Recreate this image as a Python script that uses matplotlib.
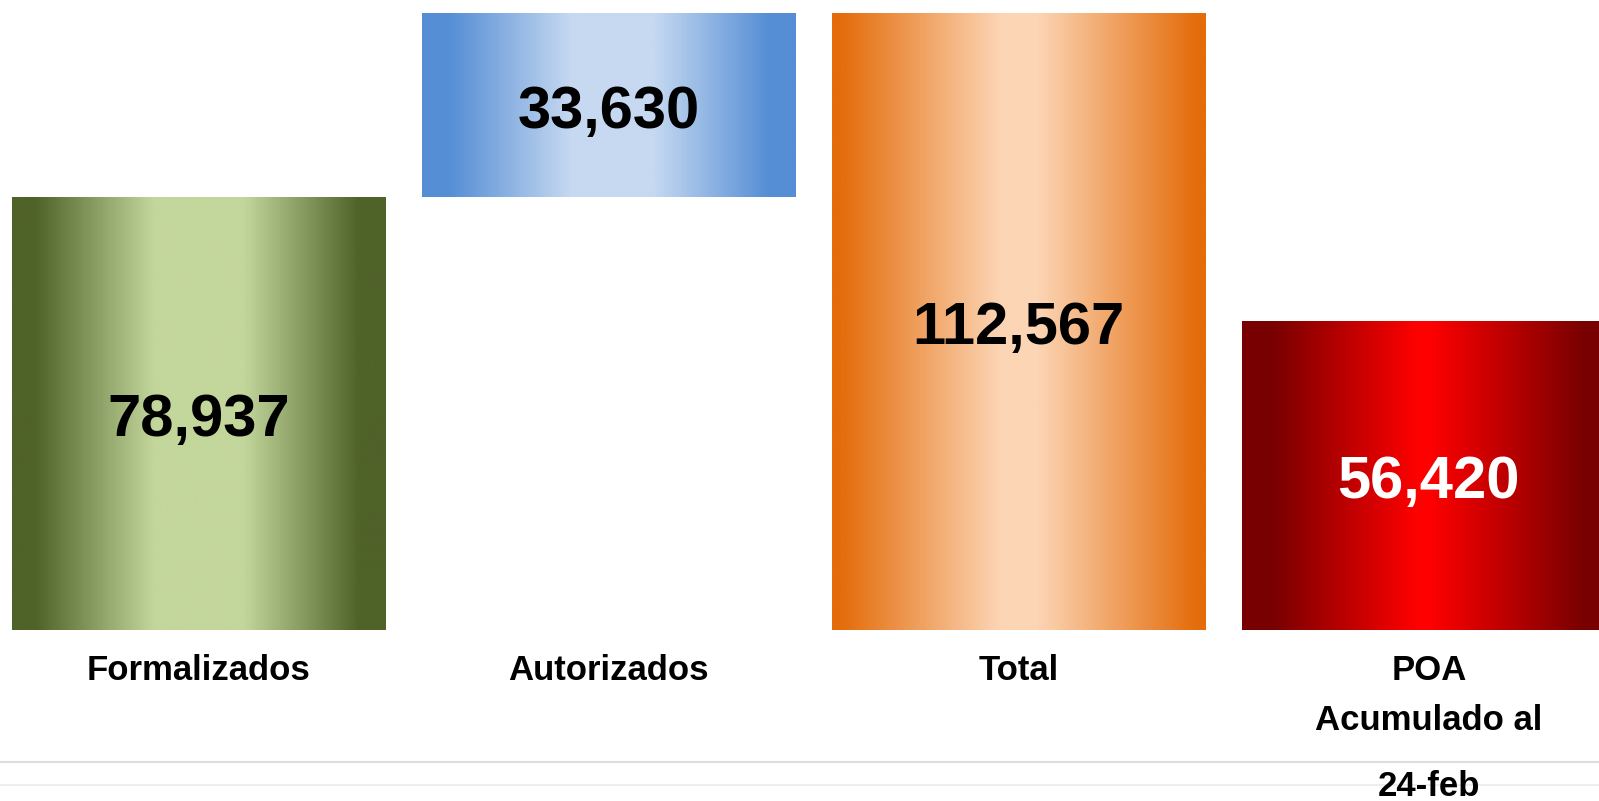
import numpy as np
import matplotlib.pyplot as plt
from matplotlib.colors import LinearSegmentedColormap
from matplotlib.patches import Rectangle

# data
categories = ['Formalizados', 'Autorizados', 'Total', 'POA']
values = [78937, 33630, 112567, 56420]
bottoms = [0, 78937, 0, 0]          # Autorizados floats on top of Formalizados
value_labels = ['78,937', '33,630', '112,567', '56,420']
label_colors = ['black', 'black', 'black', 'white']
poa_extra = ['Acumulado al', '24-feb']

# gradient colours: (edge, centre) and where the ramps sit
edge_colors = ['#4f6228', '#558ed5', '#e46c0a', '#780000']
mid_colors = ['#c3d69b', '#c6d9f1', '#fcd5b5', '#ff0000']
ramps = [(0.06, 0.38, 0.62, 0.93),
         (0.07, 0.40, 0.62, 0.93),
         (0.02, 0.45, 0.55, 0.98),
         (0.08, 0.47, 0.50, 0.92)]

fig = plt.figure(figsize=(15.99, 8.01), dpi=100)
ax = fig.add_axes([0, 0.2135, 1, 0.7703])
ax.set_xlim(-0.485, 3.415)
ax.set_ylim(0, 112567)
ax.axis('off')

width = 0.91
x = np.arange(len(categories))
bars = ax.bar(x, values, width=width, bottom=bottoms, color='none', edgecolor='none')

grad = np.linspace(0, 1, 400).reshape(1, -1)
for i, b in enumerate(bars):
    a, c, d, e = ramps[i]
    cmap = LinearSegmentedColormap.from_list(
        'g%d' % i,
        [(0, edge_colors[i]), (a, edge_colors[i]), (c, mid_colors[i]),
         (d, mid_colors[i]), (e, edge_colors[i]), (1, edge_colors[i])])
    x0, y0 = b.get_x(), b.get_y()
    w, h = b.get_width(), b.get_height()
    im = ax.imshow(grad, cmap=cmap, aspect='auto', extent=(x0, x0 + w, y0, y0 + h),
                   interpolation='bilinear', zorder=2)
    clip = Rectangle((x0, y0), w, h, transform=ax.transData, facecolor='none')
    im.set_clip_path(clip)
    ax.annotate(value_labels[i], xy=(x0 + w / 2, y0 + h / 2), xytext=(0, -5),
                textcoords='offset points', ha='center', va='center',
                fontsize=43, fontweight='bold', color=label_colors[i],
                family=['Liberation Sans', 'DejaVu Sans'], zorder=3)

cat_font = ['Liberation Sans', 'DejaVu Sans']
for i, cat in enumerate(categories):
    ax.annotate(cat, xy=(i, 0), xytext=(0, -29.5), textcoords='offset points',
                ha='center', va='center', fontsize=25, fontweight='bold',
                family=cat_font, annotation_clip=False)
for txt, off in zip(poa_extra, [-65, -112.5]):
    ax.annotate(txt, xy=(3, 0), xytext=(0, off), textcoords='offset points',
                ha='center', va='center', fontsize=25, fontweight='bold',
                family=cat_font, annotation_clip=False)

# faint table borders at the bottom, behind the text
fig.add_artist(plt.Line2D([0, 1], [1 - 762 / 801] * 2, color='#dedede', lw=1.5, zorder=-1))
fig.add_artist(plt.Line2D([0, 1], [1 - 785 / 801] * 2, color='#eeeeee', lw=1.5, zorder=-1))

fig.savefig('out.png', dpi=100, facecolor='white')
